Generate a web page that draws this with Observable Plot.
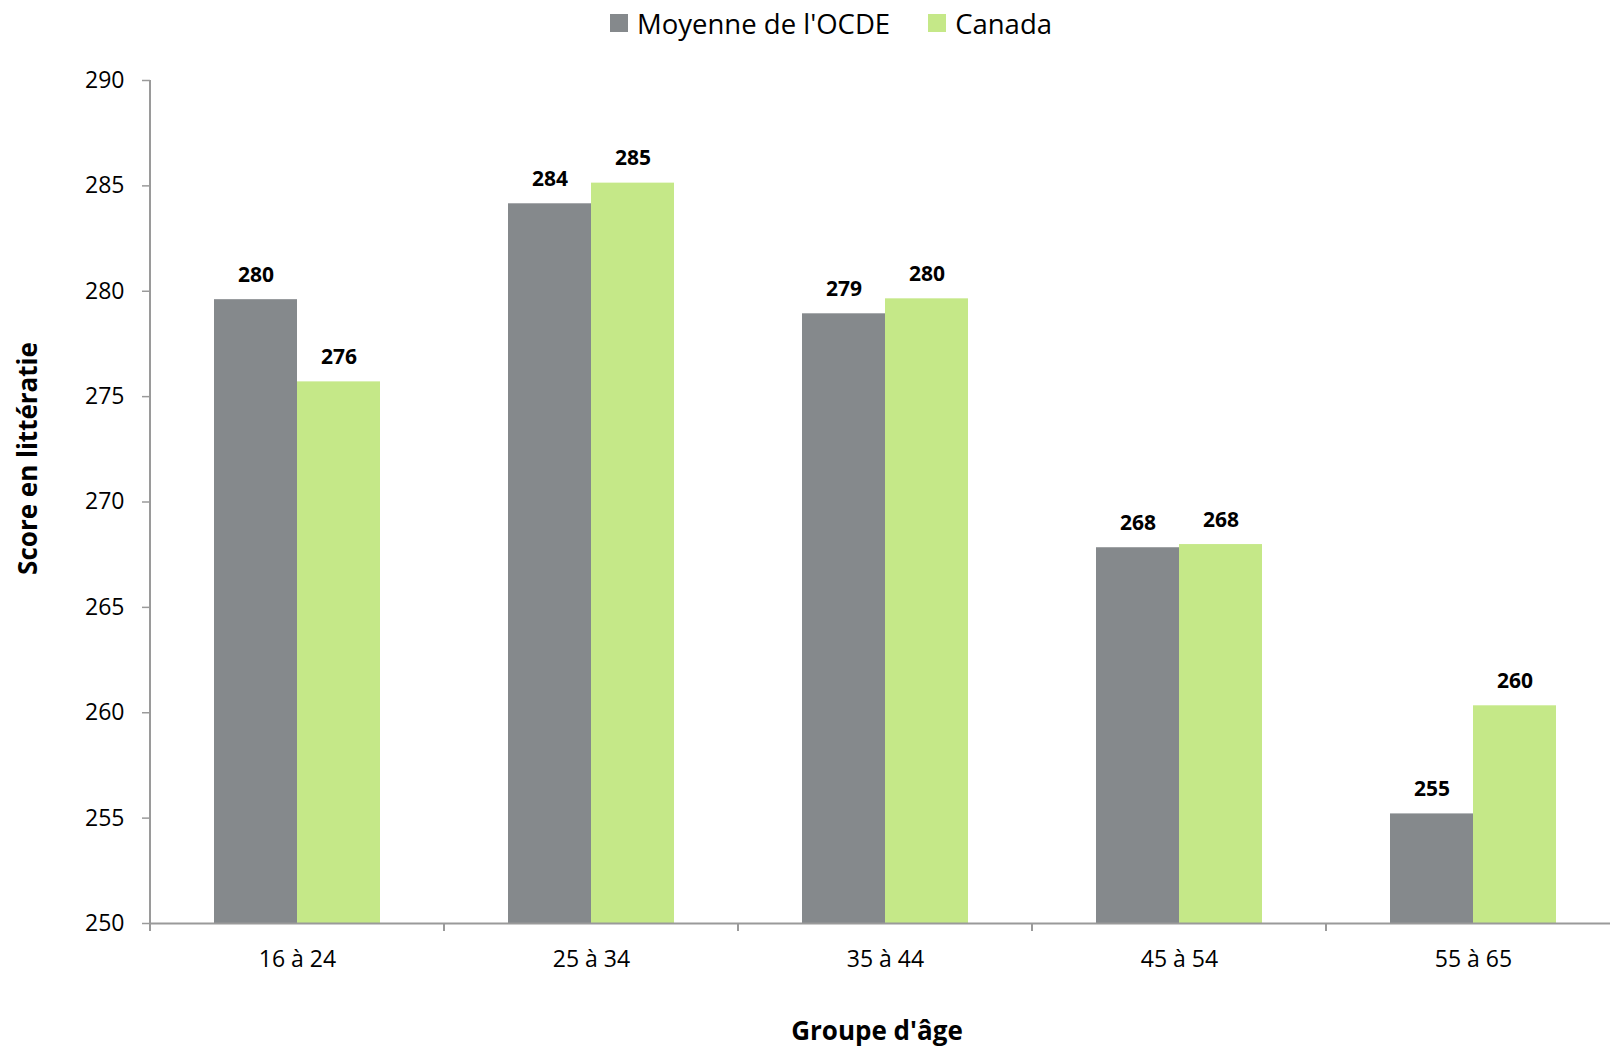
<!DOCTYPE html>
<html>
<head>
<meta charset="utf-8">
<script src="https://cdn.jsdelivr.net/npm/d3@7"></script>
<script src="https://cdn.jsdelivr.net/npm/@observablehq/plot@0.6"></script>
<style>
  html, body { margin: 0; padding: 0; background: #fff; }
  #wrap { position: relative; width: 1610px; height: 1047px; font-family: "Open Sans", sans-serif; }
  #wrap svg { position: absolute; left: 0; top: 0; }
  #legend { position: absolute; top: 0; left: 610px; display: flex; align-items: center; height: 46px; font-size: 27.5px; color: #000; }
  #legend .item { display: flex; align-items: center; margin-right: 38px; }
  #legend .sw { width: 18px; height: 18px; margin-right: 9px; margin-top: 0px; }
</style>
</head>
<body>
<div id="wrap"><div id="legend"></div></div>
<script>
const ageGroups = ["16 à 24", "25 à 34", "35 à 44", "45 à 54", "55 à 65"];
const seriesNames = ["Moyenne de l'OCDE", "Canada"];
const ocdeValues = [279.6, 284.15, 278.93, 267.83, 255.2];
const canadaValues = [275.7, 285.13, 279.64, 267.98, 260.33];
const yTicks = [250, 255, 260, 265, 270, 275, 280, 285, 290];
const seriesColors = ["#85898C", "#C5E888"];
const yTitle = "Score en littératie";
const xTitle = "Groupe d'âge";

const data = [];
ageGroups.forEach((age, i) => {
  data.push({age, series: seriesNames[0], value: ocdeValues[i]});
  data.push({age, series: seriesNames[1], value: canadaValues[i]});
});

const axisColor = "#9A9A9A";

const plot = Plot.plot({
  width: 1610,
  height: 1047,
  marginLeft: 148,
  marginRight: -11,
  marginTop: 80,
  marginBottom: 124,
  style: {fontFamily: "Open Sans, sans-serif", background: "transparent", overflow: "visible"},
  fx: {domain: ageGroups, padding: 0, paddingInner: 0, paddingOuter: 0},
  x: {domain: seriesNames, paddingInner: 0, paddingOuter: 0.752, axis: null},
  y: {domain: [250, 290], ticks: yTicks},
  color: {domain: seriesNames, range: seriesColors},
  marks: [
    Plot.barY(data, {fx: "age", x: "series", y1: 250, y2: "value", fill: "series", inset: 0}),
    Plot.text(data, {fx: "age", x: "series", y: "value", text: d => String(Math.round(d.value)),
      lineAnchor: "bottom", dy: -18, fontWeight: "bold", fontSize: 21, fill: "#000"}),
    Plot.ruleY([250], {stroke: axisColor, strokeWidth: 2}),
    Plot.axisY({ticks: yTicks, tickSize: 8, tickPadding: 18, fontSize: 23, stroke: axisColor, color: "#000", label: null, strokeWidth: 1.5}),
    Plot.axisFx({anchor: "bottom", tickSize: 0, tickPadding: 27, fontSize: 23, label: null, color: "#000"})
  ]
});

const wrap = document.getElementById("wrap");
wrap.appendChild(plot);

// axis decorations drawn from the plot's own scales
const svg = d3.select(plot);
const fx = plot.scale("fx");
const y = plot.scale("y");
const bw = fx.bandwidth;
const bandStart = a => fx.apply(a);
const x0 = bandStart(ageGroups[0]);
const yBottom = y.apply(250);
const yTop = y.apply(290);
svg.append("line").attr("x1", x0).attr("x2", x0).attr("y1", yTop).attr("y2", yBottom + 8)
  .attr("stroke", axisColor).attr("stroke-width", 2);
const bounds = ageGroups.map(bandStart).concat([bandStart(ageGroups[ageGroups.length - 1]) + bw]);
bounds.forEach(b => {
  svg.append("line").attr("x1", b).attr("x2", b).attr("y1", yBottom).attr("y2", yBottom + 8)
    .attr("stroke", axisColor).attr("stroke-width", 2);
});
// axis titles
const cx = (x0 + bounds[bounds.length - 1]) / 2;
svg.append("text").text(xTitle)
  .attr("x", cx - 8).attr("y", 1040)
  .attr("text-anchor", "middle").attr("font-weight", "bold").attr("font-size", 26)
  .attr("font-family", "Open Sans, sans-serif").attr("fill", "#000");
svg.append("text").text(yTitle)
  .attr("transform", `translate(37, ${(yTop + yBottom) / 2 - 43}) rotate(-90)`)
  .attr("text-anchor", "middle").attr("font-weight", "bold").attr("font-size", 26)
  .attr("font-family", "Open Sans, sans-serif").attr("fill", "#000");

// legend from the color scale
const color = plot.scale("color");
const legend = document.getElementById("legend");
color.domain.forEach((name, i) => {
  const item = document.createElement("div");
  item.className = "item";
  const sw = document.createElement("div");
  sw.className = "sw";
  sw.style.background = color.range[i];
  const label = document.createElement("span");
  label.textContent = name;
  item.appendChild(sw);
  item.appendChild(label);
  legend.appendChild(item);
});
</script>
</body>
</html>
